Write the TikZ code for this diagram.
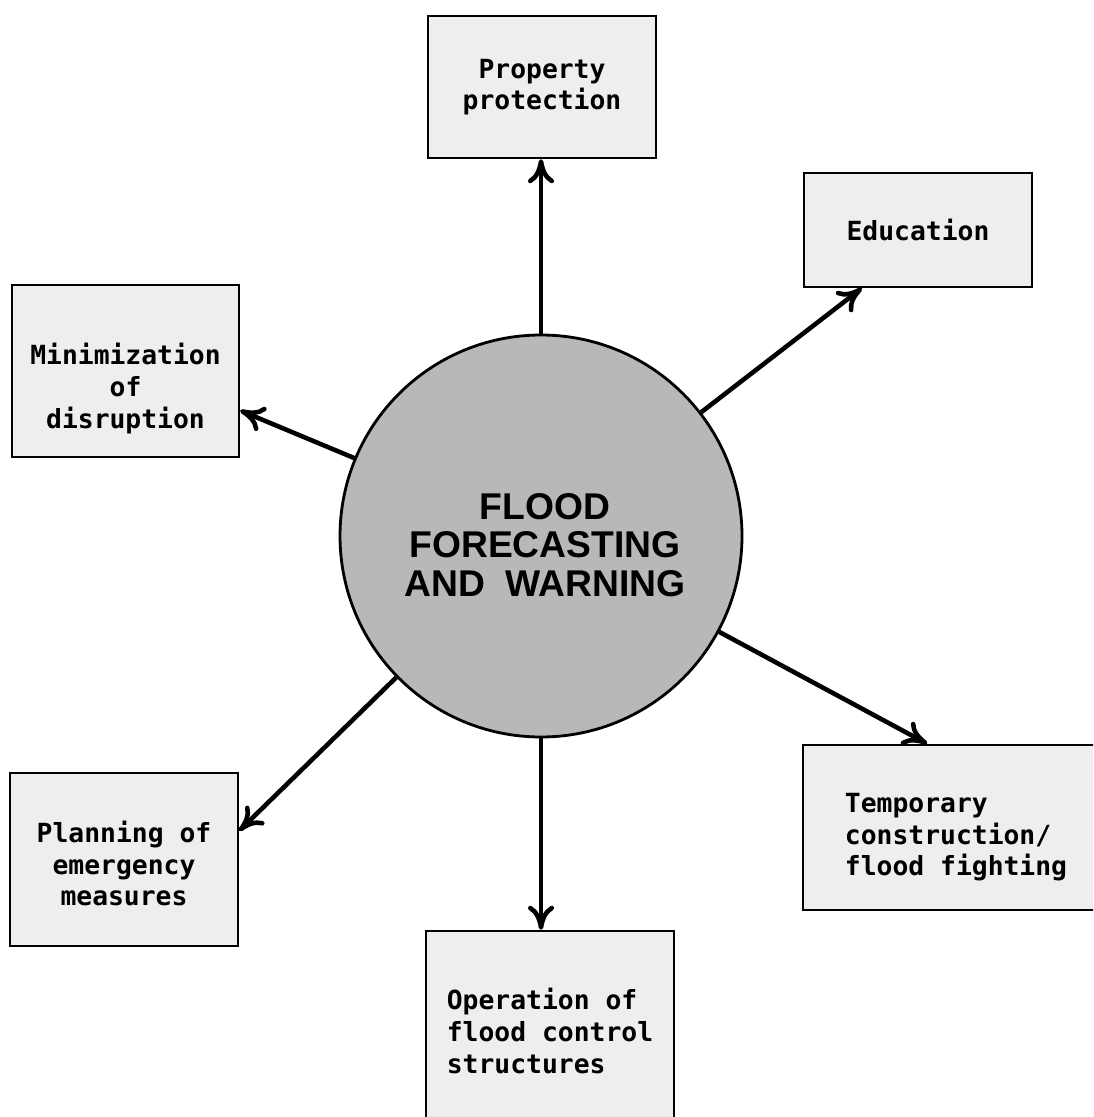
\documentclass[tikz,border=0pt]{standalone}
\usepackage{fontspec}
\setmonofont{DejaVu Sans Mono}
\newfontfamily\titlefont{Liberation Sans}
\usetikzlibrary{arrows.meta}
\definecolor{boxgray}{RGB}{238, 238, 238}
\definecolor{discgray}{RGB}{184, 184, 184}

\begin{document}
\begin{tikzpicture}[x=0.1mm, y=-0.1mm,
        box/.style={draw=black, line width=0.7pt, fill=boxgray, inner sep=0pt,
                    font=\ttfamily\bfseries\fontsize{7.5}{9}\selectfont},
        link/.style={line width=1.3pt, -{To[length=2.4mm, width=2.6mm]}}]
            \useasboundingbox (0, 0) rectangle (1093, 1117);
            \clip             (0, 0) rectangle (1093, 1117);
            \node[draw=black, line width=0.8pt, fill=discgray, circle, minimum size=40.2mm] (c)     at ( 541.0,  536.0) {};
            \node[font=\titlefont\bfseries\fontsize{10.6}{11}\selectfont, align=center]       (title) at ( 545.0,  545.0) {FLOOD\\FORECASTING\\AND~~WARNING};
            \node[box, minimum width=22.8mm, minimum height=14.2mm, align=center] (prop) at ( 542.0,   87.0) {Property\\protection};
            \node[box, minimum width=22.8mm, minimum height=11.4mm]               (edu)  at ( 918.0,  230.0) {Education};
            \node[box, minimum width=22.7mm, minimum height=17.2mm, align=center] (mini) at ( 125.5,  371.0) {\rule{0pt}{16pt}Minimization\\of\\disruption};
            \node[box, minimum width=30.6mm, minimum height=16.5mm, align=left]   (temp) at ( 956.0,  827.5) {\rule{0pt}{11pt}Temporary\\construction/\\flood fighting};
            \node[box, minimum width=22.8mm, minimum height=17.3mm, align=center] (plan) at ( 124.0,  859.5) {\rule{0pt}{8.5pt}Planning of\\emergency\\measures};
            \node[box, minimum width=24.8mm, minimum height=20.0mm, align=left]   (oper) at ( 550.0, 1031.0) {Operation of\\flood control\\structures};
            \draw[link] (c.north) -- (c.north |- prop.south);
            \draw[link] (c)       -- (edu.226);
            \draw[link] (c)       -- (mini.341);
            \draw[link] (c)       -- (temp.109);
            \draw[link] (c)       -- (plan.14);
            \draw[link] (c.south) -- (c.south |- oper.north);
        \end{tikzpicture}
\end{document}
